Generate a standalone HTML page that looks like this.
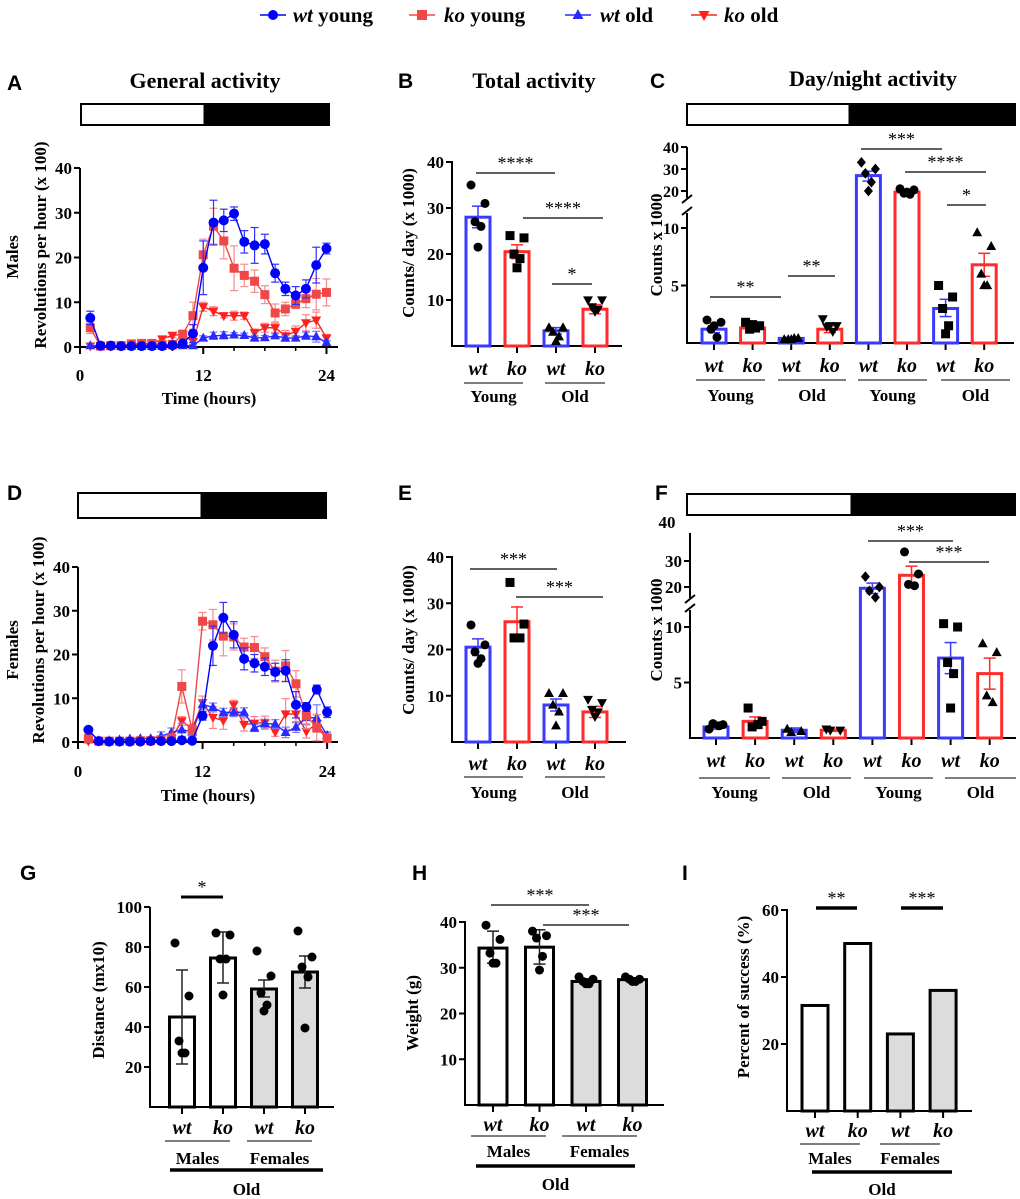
<!DOCTYPE html>
<html><head><meta charset="utf-8"><title>Activity figure</title>
<style>
html,body{margin:0;padding:0;background:#fff;}
svg{display:block;font-family:"Liberation Serif",serif;}
.b{font-weight:bold;}
</style></head>
<body>
<svg id="fig" width="1020" height="1199" viewBox="0 0 1020 1199" xmlns="http://www.w3.org/2000/svg"></svg>
<script>
// ---------- DATA ----------
const hours = [1,2,3,4,5,6,7,8,9,10,11,12,13,14,15,16,17,18,19,20,21,22,23,24];
const aWtYoung = [6.5,0.3,0.3,0.2,0.2,0.2,0.2,0.2,0.4,0.8,3,17.7,27.8,28.3,29.8,23.5,22.7,23,16.5,13,11.5,13,18.3,22];
const aWtYoungErr = [1.5,0,0,0,0,0,0,0,0.3,0.5,2,6,5,2.5,1.5,2.5,4,2.2,2,1.5,2,2,4,1.2];
const aKoYoung = [4.3,0.2,0.3,0.3,0.7,0.8,0.8,0.5,0.6,2.8,7,20.6,27,23.7,17.6,16,14.7,11.7,7.6,8.5,9.6,10.8,11.8,12.2];
const aKoYoungErr = [1.3,0,0,0,0.3,0.3,0.3,0.3,0.3,1,3,3.5,4,4,5,2.5,2.5,2,2,1.5,1,2,3.5,3];
const aWtOld = [0.3,0.2,0.2,0.2,0.2,0.2,0.2,0.2,0.3,0.3,0.3,2,2.5,2.6,2.7,2.6,2,2.1,2.5,2,2,2.5,2.3,1];
const aWtOldErr = [0.3,0,0,0,0,0,0,0,0.2,0.2,0.3,0.5,0.8,0.8,0.5,0.5,0.5,0.5,0.5,0.5,0.5,0.8,1.2,0.5];
const aKoOld = [0.2,0.2,0.2,0.2,0.4,0.6,0.7,1.8,2.6,2.8,1.2,9,8,7,7,7,3.2,4.3,4.3,2.5,3.5,5.4,6,2];
const aKoOldErr = [0.3,0,0,0,0.3,0.3,0.3,0.5,0.5,0.8,0.8,1,1,0.5,1,0.8,0.8,1,1,1.2,1.2,1.8,1.8,0.8];

const dWtYoung = [2.8,0.2,0.1,0.1,0.1,0.1,0.2,0.2,0.2,0.4,0.3,6,22,28.4,24.5,19,18,17.2,16,16.3,8.5,8,12,6.8];
const dWtYoungErr = [0.5,0,0,0,0,0,0,0,0,0.5,0.5,1,4.5,3.5,3,2.5,2,2,2,2.5,3,1,1,1.2];
const dKoYoung = [0.8,0.2,0.2,0.2,0.2,0.3,0.3,0.5,0.8,12.7,2.8,27.6,26.8,24.2,24,21.7,21.6,19.5,16.2,17.4,13.3,6,3.3,0.8];
const dKoYoungErr = [0.5,0,0,0,0,0,0,0.3,1,3.8,1,2,3.5,4.5,3,2,2.5,2,2.5,3.5,3,3,3,1];
const dWtOld = [0.5,0.3,0.3,0.5,0.7,0.8,0.8,1.3,2.2,2.8,2.3,8.6,7.9,6.7,6.8,6.8,3.2,4.2,4.1,2.2,3.4,5.6,5.5,1.5];
const dWtOldErr = [0.3,0,0,0.3,0.3,0.3,0.3,1,1,1.5,1,1,1,1,1,1,0.8,1,1,1.2,1.2,1.5,3,0.8];
const dKoOld = [0.2,0.2,0.2,0.2,0.2,0.3,0.3,0.5,0.8,4.8,3,9,5.6,4.9,8.5,4,4.3,4.4,2.3,6.4,6.4,2.4,4.2,1];
const dKoOldErr = [0.2,0,0,0,0,0,0,0.3,0.5,1,1,1.5,2.5,2,1,1.5,1.5,1.5,1,3.5,2,1.5,2,1];

const axisTicks40 = [0,10,20,30,40];
const xHourTicks = [0,12,24];
const youngOldCats = ['wt','ko','wt','ko'];
const dayNightCats = ['wt','ko','wt','ko','wt','ko','wt','ko'];

const bMeans = [28,20.5,3.3,8];
const bHi = [30.4,22,4,9];
const bLo = [25.7,19,2.6,7];
const bPts = [[35,31,27,26,21.5],[24,23.5,20,19,17],[4,4,3,2,1],[10,10,8.5,8,7.5]];
const bTicks = [10,20,30,40];

const cMeans = [1.2,1.3,0.4,1.2,27,19.5,3,6.8];
const cHi = [1.5,1.5,0.5,1.5,29,20.5,3.8,7.8];
const cLo = [0.9,1.1,0.3,0.9,24.5,18.5,2.3,5.8];
const cPts = [[2,1.8,1.2,0.5,1.5],[1.8,1.5,1.2,1.3,1.6],[0.3,0.4,0.3,0.4,0.3],[2.1,1.5,1.4,1,1.5],[33,30,28,24,20],[21,20.5,19,18.5,19.5],[5,4,3,1.5,0.8],[9.6,8.4,6,5,5]];
const cTicks = [5,10,20,30,40];

const eMeans = [20.5,26,8,6.5];
const eHi = [22.3,29.2,9.3,7.7];
const eLo = [18.7,23,6.7,5.3];
const ePts = [[25.3,21,19.5,18,17],[34.5,25.5,22.5,22.5],[10.5,10.5,8,6.5,3.5],[9.2,8.5,7,6.5,5.5]];

const fMeans = [1,1.5,0.7,0.7,19.5,24.5,7.2,5.8];
const fHi = [1.2,1.9,0.9,0.8,21.5,28,8.6,7.2];
const fLo = [0.8,1.1,0.5,0.6,17.5,21.5,5.8,4.4];
const fPts = [[0.8,1.2,1.3,1.1],[2.7,1.5,1,1.2],[0.8,0.6,0.5],[0.8,0.7,0.7],[24,20,18.5,16],[33.5,25,21,20.5],[10.3,10,6.8,5.8,2.7],[8.5,7.7,3.8,3.2]];
const fTicks = [5,10,20,30];

const gMeans = [45,74.5,59,67.5];
const gHi = [68.5,87.5,63.5,75.5];
const gLo = [21.5,62,55,59.5];
const gPts = [[82,55.5,33,27,27],[87,86,74,74,56],[78,65.5,57,51,48],[88,75,70,65,39.5]];
const gTicks = [20,40,60,80,100];

const hMeans = [34.3,34.5,27,27.4];
const hHi = [38,38.3,27.6,27.8];
const hLo = [31,30.8,26.4,27];
const hPts = [[39.3,36.2,33.2,31,31],[38,37,36.5,32.5,29.5],[28,27.5,27,26.5,26.5],[28,27.5,27.5,27,27]];
const hTicks = [10,20,30,40];

const iValues = [31.5,50,23,36];
const iTicks = [20,40,60];

// ---------- HELPERS ----------
const NS = 'http://www.w3.org/2000/svg';
const svg = document.getElementById('fig');
function el(tag, attrs, name, parent) {
  const e = document.createElementNS(NS, tag);
  for (const k in attrs) e.setAttribute(k, attrs[k]);
  
  
  (parent || svg).appendChild(e);
  return e;
}
function line(x1,y1,x2,y2,stroke,w,name){ return el('line',{x1:x1,y1:y1,x2:x2,y2:y2,stroke:stroke,'stroke-width':w},name); }
function txt(x,y,s,opt,name){
  opt = opt||{};
  const a = {x:x,y:y,'font-size':opt.size||17,'font-weight':opt.weight||'bold','text-anchor':opt.anchor||'middle',fill:opt.fill||'#000'};
  if(opt.family) a['font-family']=opt.family;
  if(opt.italic) a['font-style']='italic';
  if(opt.rot!==undefined) a.transform='rotate('+opt.rot+' '+x+' '+y+')';
  const t = el('text',a,name);
  t.textContent = s;
  return t;
}
function marker(shape,x,y,r,fill,name){
  if(shape==='circle') return el('circle',{cx:x,cy:y,r:r,fill:fill},name);
  if(shape==='square') return el('rect',{x:x-r,y:y-r,width:2*r,height:2*r,fill:fill},name);
  if(shape==='triUp') return el('polygon',{points:(x)+','+(y-r*1.2)+' '+(x-r*1.1)+','+(y+r*0.8)+' '+(x+r*1.1)+','+(y+r*0.8),fill:fill},name);
  if(shape==='triDown') return el('polygon',{points:(x)+','+(y+r*1.2)+' '+(x-r*1.1)+','+(y-r*0.8)+' '+(x+r*1.1)+','+(y-r*0.8),fill:fill},name);
  if(shape==='diamond') return el('polygon',{points:x+','+(y-r*1.2)+' '+(x+r)+','+y+' '+x+','+(y+r*1.2)+' '+(x-r)+','+y,fill:fill},name);
}
function panelLetter(x,y,s){ txt(x,y,s,{size:21,family:'"Liberation Sans",sans-serif',anchor:'start'},'panel-label-'+s.toLowerCase()); }
function dayNightBar(x1,xm,x2,y,h,name){
  el('rect',{x:x1,y:y,width:x2-x1,height:h,fill:'#000'},name+'-night');
  el('rect',{x:x1+1.5,y:y+1.5,width:xm-x1-1.5,height:h-3,fill:'#fff',stroke:'#000','stroke-width':1},name+'-day');
}

// ---------- LINE CHARTS ----------
function lineChart(o){
  const xs = h => o.x0 + h*o.hx;
  const ys = v => o.y0 - v*o.vy;
  line(o.x0, ys(40), o.x0, o.y0+1, '#000', 2, o.p+'-y-axis');
  line(o.x0-1, o.y0, o.xEnd, o.y0, '#000', 2, o.p+'-x-axis');
  axisTicks40.forEach(t=>{
    line(o.x0-6, ys(t), o.x0, ys(t), '#000', 2, o.p+'-y-tick');
    txt(o.x0-8, ys(t)+6, String(t), {size:17, anchor:'end'}, o.p+'-y-tick-label');
  });
  for(let h=0;h<=24;h+=3){
    const major = xHourTicks.indexOf(h)>=0;
    line(xs(h), o.y0, xs(h), o.y0+(major?7:4), '#000', major?2:1.5, o.p+'-x-tick');
  }
  xHourTicks.forEach(h=> txt(xs(h), o.tickY, String(h), {size:17}, o.p+'-x-tick-label'));
  txt((o.x0+o.xEnd)/2, o.titleY, 'Time (hours)', {size:17}, o.p+'-x-axis-title');
  txt(o.ytX, o.ytY, 'Revolutions per hour (x 100)', {size:17, rot:-90}, o.p+'-y-axis-title');
  txt(o.sexX, o.sexY, o.sex, {size:17, rot:-90}, o.p+'-sex-label');
  o.series.forEach(s=>{
    const pts = hours.map((h,i)=>xs(h)+','+ys(s.v[i])).join(' ');
    hours.forEach((h,i)=>{
      if(s.e[i]>0){
        const x=xs(h);
        line(x, ys(s.v[i]+s.e[i]), x, ys(Math.max(0,s.v[i]-s.e[i])), s.ec, 1.2, o.p+'-'+s.n+'-error-bar');
        line(x-4, ys(s.v[i]+s.e[i]), x+4, ys(s.v[i]+s.e[i]), s.ec, 1.2, o.p+'-'+s.n+'-error-cap');
        line(x-4, ys(Math.max(0,s.v[i]-s.e[i])), x+4, ys(Math.max(0,s.v[i]-s.e[i])), s.ec, 1.2, o.p+'-'+s.n+'-error-cap');
      }
    });
    el('polyline',{points:pts,fill:'none',stroke:s.c,'stroke-width':1.4},o.p+'-'+s.n+'-line');
    hours.forEach((h,i)=> marker(s.shape, xs(h), ys(s.v[i]), s.r, s.c, o.p+'-'+s.n+'-point'));
  });
}

// ---------- BAR CHARTS ----------
const jitter5 = [-7,7,-3,3,0];
function barChart(o){
  const cx = i => o.c0 + i*o.gap;
  const ys = o.ys;
  (o.axisSegs||[[o.yTop,o.y0]]).forEach(sg=> line(o.ax, sg[0], o.ax, sg[1]+1, '#000', 2, o.p+'-y-axis'));
  if(o.brk){ line(o.ax-5,o.brk[0]+4,o.ax+5,o.brk[0]-4,'#000',2,o.p+'-axis-break'); line(o.ax-5,o.brk[1]+4,o.ax+5,o.brk[1]-4,'#000',2,o.p+'-axis-break'); }
  line(o.ax-1, o.y0, o.axEnd, o.y0, '#000', 2, o.p+'-x-axis');
  o.ticks.forEach(t=>{
    line(o.ax-6, ys(t), o.ax, ys(t), '#000', 2, o.p+'-y-tick');
    txt(o.ax-8, ys(t)+6, String(t), {size:o.tickSize||17, anchor:'end'}, o.p+'-y-tick-label');
  });
  o.means.forEach((m,i)=>{
    const x = cx(i);
    line(x, o.y0, x, o.y0+7, '#000', 2, o.p+'-x-tick');
    const col = o.colors[i%o.colors.length];
    const fill = o.fills ? o.fills[i] : '#fff';
    el('rect',{x:x-o.bw/2,y:ys(m),width:o.bw,height:o.y0-ys(m),fill:fill,stroke:col,'stroke-width':o.sw},o.p+'-bar-'+i);
    if(o.hi){
      const ec = o.errCol || col;
      line(x, ys(o.hi[i]), x, ys(o.lo[i]), ec, 1.5, o.p+'-error-bar');
      line(x-6, ys(o.hi[i]), x+6, ys(o.hi[i]), ec, 1.5, o.p+'-error-cap');
      line(x-6, ys(o.lo[i]), x+6, ys(o.lo[i]), ec, 1.5, o.p+'-error-cap');
    }
    if(o.pts){
      o.pts[i].forEach((v,j)=> marker(o.shapes[i], x+jitter5[j%5], ys(v), o.mr||4.5, '#000', o.p+'-data-point'));
    }
    txt(x, o.catY, o.cats[i], {size:20, italic:true}, o.p+'-category-label');
  });
  o.groups.forEach(g=>{
    line(g[0], o.gLineY, g[1], o.gLineY, '#555', 1.5, o.p+'-group-line');
    txt((g[0]+g[1])/2, o.gTextY, g[2], {size:17}, o.p+'-group-label');
  });
  if(o.old){
    line(o.old[0], o.old[2], o.old[1], o.old[2], '#000', 3.5, o.p+'-old-line');
    txt((o.old[0]+o.old[1])/2, o.old[3], 'Old', {size:17}, o.p+'-old-label');
  }
  o.sig.forEach(s=>{
    line(s[0], s[2], s[1], s[2], '#000', s[4]||1.2, o.p+'-significance-line');
    txt((s[0]+s[1])/2, s[2]-4, s[3], {size:18, weight:'normal'}, o.p+'-significance-stars');
  });
  txt(o.ytX, o.ytY, o.yTitle, {size:17, rot:-90}, o.p+'-y-axis-title');
}

// ---------- LEGEND ----------
const legendItems = [
  {x:260, tx:293, c:'#0000ff', shape:'circle', it:'wt', rest:' young', n:'wt-young'},
  {x:409, tx:444, c:'#f04848', shape:'square', it:'ko', rest:' young', n:'ko-young'},
  {x:565, tx:600, c:'#2a2aff', shape:'triUp', it:'wt', rest:' old', n:'wt-old'},
  {x:691, tx:724, c:'#ff2020', shape:'triDown', it:'ko', rest:' old', n:'ko-old'}
];
legendItems.forEach(L=>{
  line(L.x, 15, L.x+26, 15, L.c, 1.5, 'legend-line-'+L.n);
  marker(L.shape, L.x+13, 15, 5, L.c, 'legend-marker-'+L.n);
  const t = txt(L.tx, 22, '', {size:21, anchor:'start'}, 'legend-entry-'+L.n);
  const a = document.createElementNS(NS,'tspan'); a.setAttribute('font-style','italic'); a.textContent=L.it; t.appendChild(a);
  const b = document.createElementNS(NS,'tspan'); b.textContent=L.rest; t.appendChild(b);
});

// ---------- PANEL A / D ----------
panelLetter(7,90,'A');
txt(205,88,'General activity',{size:22},'panel-a-title');
dayNightBar(80,204,330,103,23,'panel-a-daynight-bar');
lineChart({p:'panel-a', x0:80, hx:10.27, y0:347, vy:4.475, xEnd:338, tickY:381, titleY:404, ytX:46, ytY:245, sexX:18, sexY:257, sex:'Males',
  series:[
    {n:'ko-old', v:aKoOld, e:aKoOldErr, c:'#ff2020', ec:'#ff8080', shape:'triDown', r:4.5},
    {n:'wt-old', v:aWtOld, e:aWtOldErr, c:'#2a2aff', ec:'#7a7aff', shape:'triUp', r:4.5},
    {n:'ko-young', v:aKoYoung, e:aKoYoungErr, c:'#f04848', ec:'#f58c8c', shape:'square', r:4.5},
    {n:'wt-young', v:aWtYoung, e:aWtYoungErr, c:'#0000ff', ec:'#3030ff', shape:'circle', r:5}
  ]});

panelLetter(7,500,'D');
dayNightBar(77,201,327,492,27,'panel-d-daynight-bar');
lineChart({p:'panel-d', x0:78, hx:10.38, y0:742, vy:4.375, xEnd:338, tickY:777, titleY:801, ytX:44, ytY:640, sexX:18, sexY:650, sex:'Females',
  series:[
    {n:'ko-old', v:dKoOld, e:dKoOldErr, c:'#ff2020', ec:'#ff8080', shape:'triDown', r:4.5},
    {n:'wt-old', v:dWtOld, e:dWtOldErr, c:'#2a2aff', ec:'#7a7aff', shape:'triUp', r:4.5},
    {n:'ko-young', v:dKoYoung, e:dKoYoungErr, c:'#f04848', ec:'#f58c8c', shape:'square', r:4.5},
    {n:'wt-young', v:dWtYoung, e:dWtYoungErr, c:'#0000ff', ec:'#3030ff', shape:'circle', r:5}
  ]});

// ---------- PANEL B / E ----------
const blueRed = ['#3a3aff','#ff2a2a'];
panelLetter(398,88,'B');
txt(534,88,'Total activity',{size:22},'panel-b-title');
barChart({p:'panel-b', ax:452, axEnd:622, y0:346, yTop:161, ys:v=>346-v*4.6, ticks:bTicks, c0:478, gap:39, bw:24, sw:3,
  means:bMeans, hi:bHi, lo:bLo, pts:bPts, shapes:['circle','square','triUp','triDown'], colors:blueRed, cats:youngOldCats,
  catY:375, gLineY:383, gTextY:402, groups:[[464,523,'Young'],[545,605,'Old']],
  sig:[[476,555,173,'****'],[523,603,218,'****'],[552,592,284,'*']], yTitle:'Counts/ day (x 1000)', ytX:414, ytY:243});

panelLetter(398,500,'E');
barChart({p:'panel-e', ax:452, axEnd:626, y0:742, yTop:556, ys:v=>742-v*4.625, ticks:bTicks, c0:478, gap:39, bw:24, sw:3,
  means:eMeans, hi:eHi, lo:eLo, pts:ePts, shapes:['circle','square','triUp','triDown'], colors:blueRed, cats:youngOldCats,
  catY:770, gLineY:777, gTextY:798, groups:[[464,523,'Young'],[545,605,'Old']],
  sig:[[470,557,569,'***'],[516,603,597,'***']], yTitle:'Counts/ day (x 1000)', ytX:414, ytY:640});

// ---------- PANEL C / F ----------
panelLetter(650,88,'C');
txt(873,86,'Day/night activity',{size:22},'panel-c-title');
dayNightBar(686,849,1016,103,23,'panel-c-daynight-bar');
const ysC = v => v<=11.3 ? 343 - v*11.5 : 191 - (v-20)*2.2;
barChart({p:'panel-c', ax:687, axEnd:1014, y0:343, ys:ysC, axisSegs:[[147,197],[213,343]], brk:[199,211], ticks:cTicks, tickSize:16,
  c0:714, gap:38.6, bw:24, sw:3, means:cMeans, hi:cHi, lo:cLo, pts:cPts,
  shapes:['circle','square','triUp','triDown','diamond','circle','square','triUp'], colors:blueRed, cats:dayNightCats,
  catY:372, gLineY:380, gTextY:401, groups:[[696,765,'Young'],[778,846,'Old'],[858,927,'Young'],[941,1010,'Old']],
  sig:[[861,942,149,'***'],[905,986,172,'****'],[947,986,205,'*'],[710,781,297,'**'],[788,835,276,'**']],
  yTitle:'Counts x 1000', ytX:662, ytY:245});

panelLetter(655,500,'F');
dayNightBar(686,851,1016,493,23,'panel-f-daynight-bar');
const ysF = v => v<=11 ? 738 - v*11.1 : 587 - (v-20)*2.6;
txt(667,528,'40',{size:17},'panel-f-top-tick-label');
barChart({p:'panel-f', ax:690, axEnd:1016, y0:738, ys:ysF, axisSegs:[[533,597],[610,738]], brk:[599,608], ticks:fTicks,
  c0:716, gap:39.1, bw:24, sw:3, means:fMeans, hi:fHi, lo:fLo, pts:fPts,
  shapes:['circle','square','triUp','triDown','diamond','circle','square','triUp'], colors:blueRed, cats:dayNightCats,
  catY:767, gLineY:778, gTextY:798, groups:[[699,770,'Young'],[782,851,'Old'],[864,933,'Young'],[945,1016,'Old']],
  sig:[[868,953,541,'***'],[909,989,562,'***']], yTitle:'Counts x 1000', ytX:662, ytY:630});

// ---------- PANEL G / H / I ----------
const blk = ['#000'];
const sexFills = ['#fff','#fff','#dcdcdc','#dcdcdc'];
panelLetter(20,880,'G');
barChart({p:'panel-g', ax:150, axEnd:334, y0:1107, yTop:907, ys:v=>1107-v*2, ticks:gTicks, c0:182, gap:41, bw:25, sw:3,
  means:gMeans, hi:gHi, lo:gLo, errCol:'#222', pts:gPts, shapes:['circle','circle','circle','circle'], colors:blk, fills:sexFills, cats:youngOldCats,
  catY:1134, gLineY:1141, gTextY:1164, groups:[[165,230,'Males'],[247,312,'Females']], old:[170,323,1170,1195],
  sig:[[181,223,897,'*',3]], yTitle:'Distance (mx10)', ytX:104, ytY:1000});

panelLetter(412,880,'H');
barChart({p:'panel-h', ax:465, axEnd:664, y0:1105, yTop:921, ys:v=>1105-v*4.575, ticks:hTicks, c0:493, gap:46.5, bw:28, sw:3,
  means:hMeans, hi:hHi, lo:hLo, errCol:'#222', pts:hPts, shapes:['circle','circle','circle','circle'], colors:blk, fills:sexFills, cats:youngOldCats,
  catY:1131, gLineY:1136, gTextY:1157, groups:[[471,546,'Males'],[562,637,'Females']], old:[476,635,1166,1190],
  sig:[[491,589,905,'***'],[543,629,925,'***']], yTitle:'Weight (g)', ytX:418, ytY:1013});

panelLetter(682,880,'I');
barChart({p:'panel-i', ax:787, axEnd:972, y0:1111, yTop:909, ys:v=>1111-v*3.35, ticks:iTicks, c0:815, gap:42.7, bw:26, sw:3,
  means:iValues, colors:blk, fills:sexFills, cats:youngOldCats,
  catY:1137, gLineY:1144, gTextY:1164, groups:[[800,860,'Males'],[880,940,'Females']], old:[812,952,1172,1195],
  sig:[[816,857,908,'**',3.5],[901,943,908,'***',3.5]], yTitle:'Percent of success (%)', ytX:749, ytY:997});
</script>
</body></html>
